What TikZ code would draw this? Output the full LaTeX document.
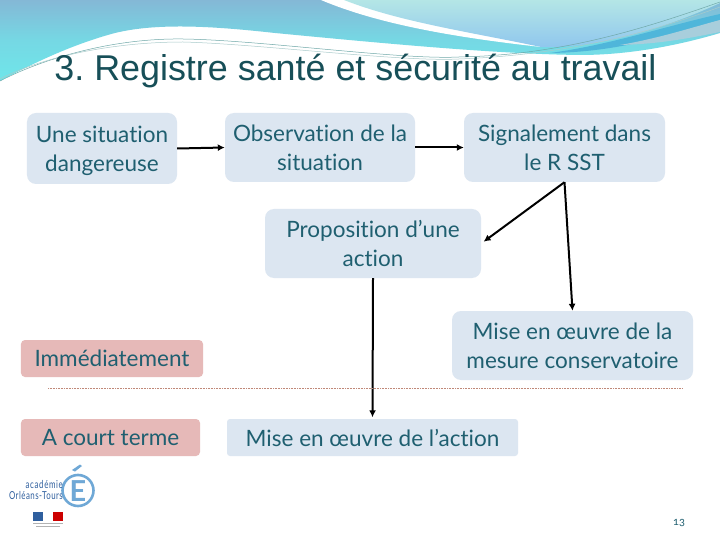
\documentclass[tikz,border=0pt]{standalone}
\usepackage{fontspec}
\usetikzlibrary{arrows.meta}
\setmainfont{Lato}[Ligatures=CommonOff]
\newfontfamily\titlefont{Liberation Sans}
\newfontfamily\numfont[Numbers=OldStyle]{Lato}
\definecolor{txt}{HTML}{1F5F70}
\definecolor{ttl}{HTML}{174F58}
\definecolor{boxblue}{HTML}{DCE6F1}
\definecolor{boxpink}{HTML}{E6B9B8}
\definecolor{logoa}{HTML}{6FA8D6}
\definecolor{logob}{HTML}{2F5F9E}
\definecolor{wavetop}{HTML}{84B8D6}
\definecolor{wavebot}{HTML}{6FE6EA}
\definecolor{lighttop}{HTML}{B4E6E6}
\definecolor{lightbot}{HTML}{8FC6EE}
\definecolor{strip}{HTML}{4FB6DA}
\definecolor{stripb}{HTML}{A8CEDC}
\definecolor{thinl}{HTML}{6FA8A8}
\definecolor{rulec}{HTML}{C08878}
\tikzset{
 x=1bp,y=-1bp,
 bluebox/.style={fill=boxblue,rounded corners=9bp,text=txt,font=\fontsize{22.6}{29}\selectfont,align=center,inner sep=0pt,minimum height=69bp},
 flatbox/.style={fill=boxblue,rounded corners=3bp,text=txt,font=\fontsize{22.6}{29}\selectfont,align=center,inner sep=0pt,minimum height=37bp},
 pinkbox/.style={fill=boxpink,rounded corners=4bp,text=txt,font=\fontsize{22.6}{29}\selectfont,align=center,inner sep=0pt,minimum height=37bp},
 arr/.style={draw=black,line width=2bp,-{Latex[length=7bp,width=7bp]}},
 wavel/.style={draw=thinl,line width=0.5bp},
}
\begin{document}
\begin{tikzpicture}
\useasboundingbox (0,0) rectangle (720,540);
\fill[white] (0,0) rectangle (720,540);
% header waves
\shade[top color=wavetop,bottom color=wavebot,middle color=wavebot!70!wavetop] (0,0) -- (720,0) -- (720,33)
  .. controls (680,45) and (630,55) .. (580,55)
  .. controls (500,54) and (400,45) .. (275,33)
  .. controls (220,27) and (160,22) .. (115,33)
  .. controls (70,45) and (30,65) .. (0,81) -- cycle;
\fill[white] (321,0) .. controls (380,25) and (460,38) .. (541,47) -- (600,40) -- (640,0) -- cycle;
\shade[top color=lighttop,bottom color=lightbot] (344,0) .. controls (400,22) and (470,32) .. (541,47)
  .. controls (590,48) and (650,35) .. (720,3) -- (720,0) -- cycle;
\fill[strip] (550,53) .. controls (610,45) and (670,25) .. (720,14) -- (720,20) .. controls (670,35) and (620,52) .. (550,53) -- cycle;
\fill[stripb] (620,45) .. controls (660,38) and (690,28) .. (720,20) -- (720,32) .. controls (690,38) and (660,44) .. (620,45) -- cycle;
\draw[wavel] (0,81) .. controls (40,60) and (110,38) .. (183,39)
  .. controls (260,40) and (400,60) .. (459,57)
  .. controls (560,55) and (640,30) .. (720,2);
\draw[wavel,draw=thinl!60] (0,79) .. controls (40,58) and (110,42) .. (183,42)
  .. controls (260,44) and (400,62) .. (459,59)
  .. controls (560,55) and (640,36) .. (720,7);
\node[font=\titlefont\fontsize{36}{38}\selectfont,text=ttl,anchor=base,inner sep=0pt] (title) at (355.5,81) {\frenchspacing 3. Registre santé et sécurité au travail};
% boxes
\node[bluebox,minimum width=150bp,minimum height=71bp] (a) at (102,148.5) {\rule{0pt}{21bp}Une situation\\dangereuse};
\node[bluebox,minimum width=190bp] (b) at (320,147.5) {Observation de la\\situation};
\node[bluebox,minimum width=201bp] (c) at (564.5,147.5) {Signalement dans\\le R SST};
\node[bluebox,minimum width=216bp] (d) at (373,243.5) {Proposition d’une\\action};
\node[bluebox,minimum width=241bp] (e) at (572.5,345.5) {Mise en œuvre de la\\mesure conservatoire};
\node[pinkbox,minimum width=182bp] (f) at (112,358.5) {Immédiatement};
\node[pinkbox,minimum width=179bp] (g) at (110.5,437.5) {A court terme};
\node[flatbox,minimum width=291bp] (h) at (372.5,437.5) {Mise en œuvre de l’action};
% connectors
\draw[arr] (a.east) -- (b.west);
\draw[arr] (b.east) -- (c.west);
\draw[arr,shorten >=3bp] (c.south) -- (d.east);
\draw[arr] (c.south) -- (e.north);
\draw[arr,shorten >=1.5bp] (d.south) -- (h.north);
% dotted rule
\coordinate (rl) at (48,388);
\coordinate (rr) at (682,388);
\draw[draw=rulec,line width=0.6bp,densely dotted] (rl) -- (rr);
% logo
\draw[logoa,line width=2.6bp] (78,490.5) circle (15.5bp);
\fill[logoa] (72,470) -- (80,464.5) -- (82,466) -- (75,471.5) -- cycle;
\node[font=\bfseries\fontsize{29}{29}\selectfont,text=logoa,inner sep=0pt] (logoe) at (78,491) {E};
\node[font=\fontsize{11}{11}\selectfont,text=logob,anchor=east,inner sep=0pt,xscale=0.72] (logo1) at (63,485) {\addfontfeature{LetterSpace=8}académie};
\node[font=\fontsize{11}{11}\selectfont,text=logob,anchor=east,inner sep=0pt,xscale=0.72] (logo2) at (63,496) {\addfontfeature{LetterSpace=6}Orléans-Tours};
\fill[logob] (33,512) rectangle (43,521);
\fill[white] (43,512) rectangle (53,521);
\fill[red!80!black] (53,512) rectangle (63,521);
\fill[gray!60] (33,523) rectangle (63,524);
\fill[gray!60] (36,526) rectangle (60,527);
% page number
\node[font=\numfont\fontsize{11}{11}\selectfont,text=txt,inner sep=0pt] (pg) at (679,523) {13};
\end{tikzpicture}
\end{document}
